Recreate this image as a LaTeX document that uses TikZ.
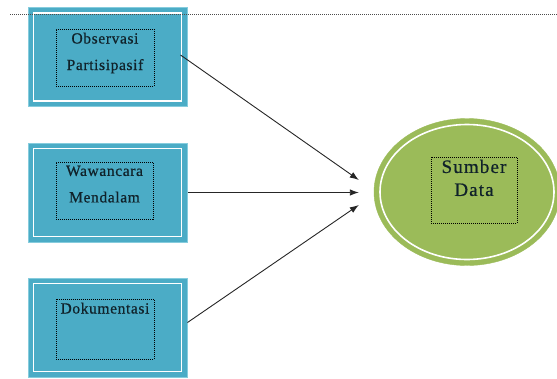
\documentclass[tikz,border=0pt]{standalone}
\usepackage{fontspec}
\setmainfont{Liberation Serif}
\newfontfamily\srcfont[LetterSpace=4, FakeBold=0.6]{Liberation Serif}
\newfontfamily\datafont[LetterSpace=6, FakeBold=0.6]{Liberation Serif}
\usetikzlibrary{shapes.geometric, arrows.meta, positioning}
\definecolor{boxblue}{HTML}{4BACC6}
\definecolor{boxrim}{HTML}{86CCDD}
\definecolor{datagreen}{HTML}{9BBB59}
\definecolor{textdark}{HTML}{10222A}

\begin{document}
\begin{tikzpicture}[x=1pt, y=-1pt,
    srcbox/.style={rectangle, fill=boxblue, draw=boxrim, line width=1pt, minimum width=159pt, minimum height=99pt, inner sep=0pt},
    frame/.style={rectangle, draw=black, dash pattern=on 1pt off 1pt, line width=0.9pt, inner sep=0pt},
    srctext/.style={inner sep=0pt, align=center, text=textdark, font=\srcfont\fontsize{15.5}{26.5}\selectfont},
    datatext/.style={inner sep=0pt, align=center, text=textdark, font=\datafont\fontsize{19}{23}\selectfont},
    feed/.style={-{Latex[length=9pt, width=6.5pt]}, line width=0.9pt, black!85}]
    \useasboundingbox (0, 0) rectangle (557, 378);

    \node [srcbox] (b1) at (107.5, 57) {};
    \node [srcbox] (b2) at (107.5, 192.5) {};
    \node [srcbox] (b3) at (107.5, 327.5) {};
    \foreach \b in {b1, b2, b3}
        \draw [white, line width=1.8pt] ([shift={(6pt, -6pt)}]\b.north west) rectangle ([shift={(-6pt, 6pt)}]\b.south east);

    \node [frame, minimum width=98pt, minimum height=57pt] (f1) at (105, 57.5) {};
    \node [frame, minimum width=97pt, minimum height=57pt] (f2) at (104.5, 190.5) {};
    \node [frame, minimum width=98pt, minimum height=60pt] (f3) at (105, 329) {};
    \node [srctext, below=4pt of f1.north] (obs) {Observasi\\Partisipasif};
    \node [srctext, below=4pt of f2.north] (waw) {Wawancara\\Mendalam};
    \node [srctext, below=4pt of f3.north] (dok) {Dokumentasi};

    \node [ellipse, fill=datagreen, draw=datagreen, minimum width=186pt, minimum height=147pt, inner sep=0pt] (sd) at (467, 192) {};
    \draw [white, line width=1.6pt] (sd.center) ellipse [x radius=87, y radius=67.5];
    \node [frame, minimum width=86pt, minimum height=66pt] (f4) at (474, 190) {};
    \node [datatext, below=3pt of f4.north] (sum) {Sumber\\Data};

    \coordinate (in1) at ([xshift=-15pt, yshift=12pt]sd.west);
    \coordinate (in2) at ([xshift=-15pt, yshift=-0.5pt]sd.west);
    \coordinate (in3) at ([xshift=-15pt, yshift=-13pt]sd.west);
    \draw [feed] ([xshift=-7pt, yshift=2pt]b1.east) -- (in1);
    \draw [feed] (b2.east) -- (in2);
    \draw [feed] ([yshift=5pt]b3.east) -- (in3);

    \draw [black!70, dash pattern=on 1pt off 1pt, line width=0.9pt] (10, 14) -- (557, 14);

\end{tikzpicture}
\end{document}
